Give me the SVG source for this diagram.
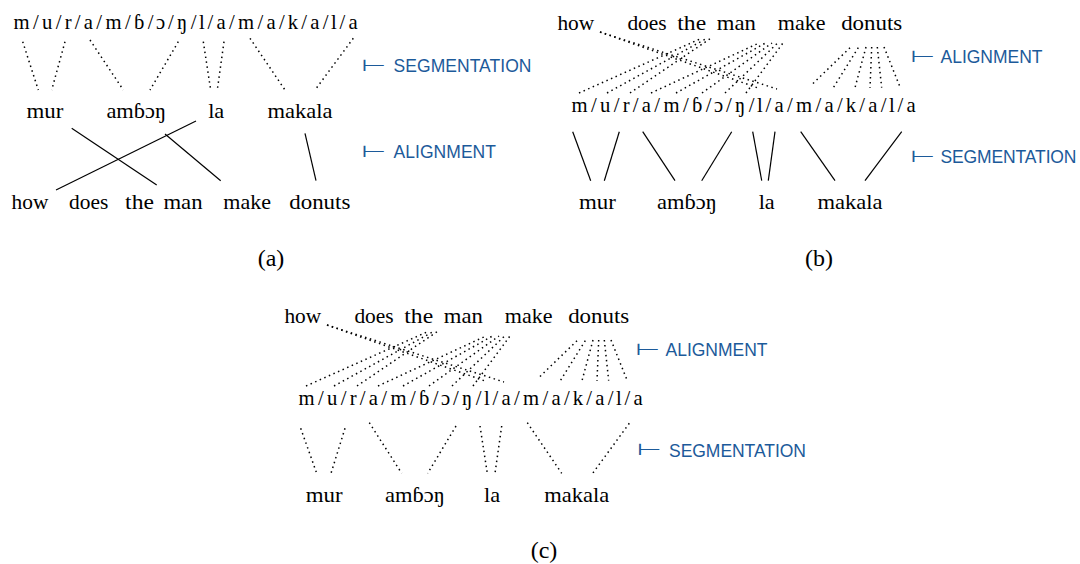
<svg xmlns="http://www.w3.org/2000/svg" width="1080" height="564" viewBox="0 0 1080 564">
<style>
.w{font-family:"Liberation Serif","DejaVu Serif",serif;font-size:20.7px;fill:#000;text-anchor:middle}
.s{font-family:"Liberation Serif","DejaVu Serif",serif;font-size:20.7px;fill:#000;text-anchor:middle}
.lab{font-family:"Liberation Sans",Arial,sans-serif;font-size:17.5px;fill:#1c5a9a}
.tack{font-family:"DejaVu Sans",sans-serif;font-size:16px;fill:#1c5a9a}
.dot{stroke:#000;stroke-width:1.5;stroke-dasharray:1.5 3.5;fill:none}
.sol{stroke:#000;stroke-width:1.2;fill:none}
.cap{font-family:"Liberation Serif","DejaVu Serif",serif;font-size:24px;fill:#000;text-anchor:middle}
</style>
<rect width="1080" height="564" fill="#fff"/>

<!-- ===== Panel (a) ===== -->
<g id="a-string"><text class="s" y="29" x="21.5 35.8 47.1 58.5 68.1 77.7 88.4 99.2 113.5 127.8 139.2 150.5 160.7 170.8 182.2 193.5 201.9 210.3 221.0 231.8 246.1 260.4 271.2 281.9 293.0 304.0 314.8 325.5 333.9 342.3 353.0">m/u/r/a/m/ɓ/ɔ/ŋ/l/a/m/a/k/a/l/a</text></g>
<g id="a-mur"><text class="w" x="45" y="117.5" textLength="36.9" lengthAdjust="spacingAndGlyphs">mur</text></g>
<g id="a-ambon"><text class="w" x="136.3" y="117.5" textLength="59.8" lengthAdjust="spacingAndGlyphs">amɓɔŋ</text></g>
<g id="a-la"><text class="w" x="216.2" y="117.5" textLength="16.1" lengthAdjust="spacingAndGlyphs">la</text></g>
<g id="a-makala"><text class="w" x="300" y="117.5" textLength="65" lengthAdjust="spacingAndGlyphs">makala</text></g>
<g id="a-how"><text class="w" x="30" y="209" textLength="36.8" lengthAdjust="spacingAndGlyphs">how</text></g>
<g id="a-does"><text class="w" x="88.7" y="209" textLength="39.2" lengthAdjust="spacingAndGlyphs">does</text></g>
<g id="a-the"><text class="w" x="139.5" y="209" textLength="28.8" lengthAdjust="spacingAndGlyphs">the</text></g>
<g id="a-man"><text class="w" x="183" y="209" textLength="39.1" lengthAdjust="spacingAndGlyphs">man</text></g>
<g id="a-make"><text class="w" x="247.2" y="209" textLength="47.7" lengthAdjust="spacingAndGlyphs">make</text></g>
<g id="a-donuts"><text class="w" x="319.8" y="209" textLength="61.1" lengthAdjust="spacingAndGlyphs">donuts</text></g>
<g id="a-label-seg"><text class="tack" transform="translate(361.5,70.8) scale(1.8,1)">⊢</text><text class="lab" x="393.5" y="72.3" textLength="138">SEGMENTATION</text></g>
<g id="a-label-align"><text class="tack" transform="translate(361.5,156.8) scale(1.8,1)">⊢</text><text class="lab" x="393.5" y="158.3" textLength="102.5">ALIGNMENT</text></g>
<g id="a-caption"><text class="cap" x="271" y="266">(a)</text></g>

<g id="a-connectors">
<line class="dot" x1="22.7" y1="41.7" x2="38.3" y2="90"/>
<line class="dot" x1="65" y1="41.7" x2="51.7" y2="90"/>
<line class="dot" x1="90" y1="40" x2="123.3" y2="90"/>
<line class="dot" x1="178.3" y1="41.7" x2="150" y2="90"/>
<line class="dot" x1="203.3" y1="41.7" x2="210.7" y2="90"/>
<line class="dot" x1="224" y1="41.7" x2="217.3" y2="90"/>
<line class="dot" x1="250" y1="38.3" x2="285" y2="90"/>
<line class="dot" x1="353.3" y1="38.3" x2="315" y2="90"/>
<line class="sol" x1="71.7" y1="128.3" x2="156.7" y2="185"/>
<line class="sol" x1="196" y1="121" x2="56" y2="190"/>
<line class="sol" x1="165" y1="134" x2="220.7" y2="180.7"/>
<line class="sol" x1="305" y1="133.3" x2="316" y2="180.7"/>
</g>

<!-- ===== Panel (b) ===== -->
<g id="b-how"><text class="w" x="575.8" y="30" textLength="36.8" lengthAdjust="spacingAndGlyphs">how</text></g>
<g id="b-does"><text class="w" x="647" y="30" textLength="39.2" lengthAdjust="spacingAndGlyphs">does</text></g>
<g id="b-the"><text class="w" x="691.7" y="30" textLength="28.8" lengthAdjust="spacingAndGlyphs">the</text></g>
<g id="b-man"><text class="w" x="736.3" y="30" textLength="39.1" lengthAdjust="spacingAndGlyphs">man</text></g>
<g id="b-make"><text class="w" x="801.7" y="30" textLength="47.7" lengthAdjust="spacingAndGlyphs">make</text></g>
<g id="b-donuts"><text class="w" x="871.7" y="30" textLength="61.1" lengthAdjust="spacingAndGlyphs">donuts</text></g>
<g id="b-string"><text class="s" y="112" x="579.5 593.8 605.1 616.5 626.1 635.7 646.4 657.2 671.5 685.8 697.2 708.5 718.7 728.8 740.2 751.5 759.9 768.3 779.0 789.8 804.1 818.4 829.2 839.9 851.0 862.0 872.8 883.5 891.9 900.3 911.0">m/u/r/a/m/ɓ/ɔ/ŋ/l/a/m/a/k/a/l/a</text></g>
<g id="b-mur"><text class="w" x="597.5" y="209" textLength="36.9" lengthAdjust="spacingAndGlyphs">mur</text></g>
<g id="b-ambon"><text class="w" x="687" y="209" textLength="59.8" lengthAdjust="spacingAndGlyphs">amɓɔŋ</text></g>
<g id="b-la"><text class="w" x="766.7" y="209" textLength="16.1" lengthAdjust="spacingAndGlyphs">la</text></g>
<g id="b-makala"><text class="w" x="850" y="209" textLength="65" lengthAdjust="spacingAndGlyphs">makala</text></g>
<g id="b-label-align"><text class="tack" transform="translate(910.5,61.8) scale(1.8,1)">⊢</text><text class="lab" x="940.5" y="63.3" textLength="102">ALIGNMENT</text></g>
<g id="b-label-seg"><text class="tack" transform="translate(910.5,161.8) scale(1.8,1)">⊢</text><text class="lab" x="940.5" y="163.3" textLength="136">SEGMENTATION</text></g>
<g id="b-caption"><text class="cap" x="819" y="266">(b)</text></g>

<g id="b-connectors">
<line class="dot" x1="600" y1="32" x2="758" y2="88"/>
<line class="dot" x1="600" y1="32" x2="777" y2="89"/>
<line class="dot" x1="579" y1="93" x2="702.2" y2="38"/>
<line class="dot" x1="607" y1="93" x2="707.4" y2="38"/>
<line class="dot" x1="630" y1="93" x2="711.2" y2="38"/>
<line class="dot" x1="651" y1="93" x2="759" y2="43"/>
<line class="dot" x1="676" y1="93" x2="765.5" y2="43"/>
<line class="dot" x1="702" y1="93" x2="772" y2="43"/>
<line class="dot" x1="725" y1="93" x2="777.7" y2="43"/>
<line class="dot" x1="746" y1="93" x2="783" y2="43"/>
<line class="dot" x1="850" y1="47.7" x2="810.7" y2="85.7"/>
<line class="dot" x1="858.3" y1="47.7" x2="833.3" y2="87.7"/>
<line class="dot" x1="866" y1="47" x2="855" y2="87.7"/>
<line class="dot" x1="871.7" y1="47" x2="870" y2="87.7"/>
<line class="dot" x1="877.3" y1="47" x2="881.7" y2="87.7"/>
<line class="dot" x1="884" y1="47" x2="900" y2="87"/>
<line class="sol" x1="572.7" y1="131.7" x2="590.7" y2="180.7"/>
<line class="sol" x1="619.3" y1="131.7" x2="604.3" y2="180.7"/>
<line class="sol" x1="642.7" y1="131.7" x2="675" y2="180.7"/>
<line class="sol" x1="731.7" y1="131.7" x2="701.7" y2="180.7"/>
<line class="sol" x1="752.7" y1="131.7" x2="761.7" y2="180.7"/>
<line class="sol" x1="775" y1="131.7" x2="768.3" y2="180.7"/>
<line class="sol" x1="800.7" y1="131.7" x2="835" y2="180.7"/>
<line class="sol" x1="901.7" y1="131.7" x2="865" y2="180.7"/>
</g>

<!-- ===== Panel (c) ===== -->
<g id="c-how"><text class="w" x="302.8" y="323" textLength="36.8" lengthAdjust="spacingAndGlyphs">how</text></g>
<g id="c-does"><text class="w" x="374" y="323" textLength="39.2" lengthAdjust="spacingAndGlyphs">does</text></g>
<g id="c-the"><text class="w" x="418.7" y="323" textLength="28.8" lengthAdjust="spacingAndGlyphs">the</text></g>
<g id="c-man"><text class="w" x="463.3" y="323" textLength="39.1" lengthAdjust="spacingAndGlyphs">man</text></g>
<g id="c-make"><text class="w" x="528.7" y="323" textLength="47.7" lengthAdjust="spacingAndGlyphs">make</text></g>
<g id="c-donuts"><text class="w" x="598.7" y="323" textLength="61.1" lengthAdjust="spacingAndGlyphs">donuts</text></g>
<g id="c-string"><text class="s" y="405" x="306.5 320.8 332.1 343.5 353.1 362.7 373.4 384.2 398.5 412.8 424.2 435.5 445.7 455.8 467.2 478.5 486.9 495.3 506.0 516.8 531.1 545.4 556.2 566.9 578.0 589.0 599.8 610.5 618.9 627.3 638.0">m/u/r/a/m/ɓ/ɔ/ŋ/l/a/m/a/k/a/l/a</text></g>
<g id="c-mur"><text class="w" x="324.2" y="501.5" textLength="36.9" lengthAdjust="spacingAndGlyphs">mur</text></g>
<g id="c-ambon"><text class="w" x="415" y="501.5" textLength="59.8" lengthAdjust="spacingAndGlyphs">amɓɔŋ</text></g>
<g id="c-la"><text class="w" x="492" y="501.5" textLength="16.1" lengthAdjust="spacingAndGlyphs">la</text></g>
<g id="c-makala"><text class="w" x="576.7" y="501.5" textLength="65" lengthAdjust="spacingAndGlyphs">makala</text></g>
<g id="c-label-align"><text class="tack" transform="translate(635.5,354.8) scale(1.8,1)">⊢</text><text class="lab" x="665.5" y="356.3" textLength="102">ALIGNMENT</text></g>
<g id="c-label-seg"><text class="tack" transform="translate(637,455) scale(1.8,1)">⊢</text><text class="lab" x="669" y="456.6" textLength="137">SEGMENTATION</text></g>
<g id="c-caption"><text class="cap" x="544" y="558">(c)</text></g>

<g id="c-connectors">
<line class="dot" x1="327" y1="325" x2="485" y2="381"/>
<line class="dot" x1="327" y1="325" x2="504" y2="382"/>
<line class="dot" x1="306" y1="386" x2="429.2" y2="331"/>
<line class="dot" x1="334" y1="386" x2="434.4" y2="331"/>
<line class="dot" x1="357" y1="386" x2="438.2" y2="331"/>
<line class="dot" x1="378" y1="386" x2="486" y2="336"/>
<line class="dot" x1="403" y1="386" x2="492.5" y2="336"/>
<line class="dot" x1="429" y1="386" x2="499" y2="336"/>
<line class="dot" x1="452" y1="386" x2="504.7" y2="336"/>
<line class="dot" x1="473" y1="386" x2="510" y2="336"/>
<line class="dot" x1="577" y1="340.7" x2="537.7" y2="378.7"/>
<line class="dot" x1="585.3" y1="340.7" x2="560.3" y2="380.7"/>
<line class="dot" x1="593" y1="340" x2="582" y2="380.7"/>
<line class="dot" x1="598.7" y1="340" x2="597" y2="380.7"/>
<line class="dot" x1="604.3" y1="340" x2="608.7" y2="380.7"/>
<line class="dot" x1="611" y1="340" x2="627" y2="380"/>
<line class="dot" x1="300.7" y1="428.3" x2="316.7" y2="473.3"/>
<line class="dot" x1="345" y1="428.3" x2="331" y2="473.3"/>
<line class="dot" x1="369.3" y1="422.7" x2="401.7" y2="473.3"/>
<line class="dot" x1="456" y1="426" x2="427.7" y2="473.3"/>
<line class="dot" x1="480" y1="426" x2="487.3" y2="473.3"/>
<line class="dot" x1="501.7" y1="426" x2="495" y2="473.3"/>
<line class="dot" x1="527.3" y1="422.7" x2="561.7" y2="473.3"/>
<line class="dot" x1="629.3" y1="423.3" x2="592.7" y2="473.3"/>
</g>
</svg>
